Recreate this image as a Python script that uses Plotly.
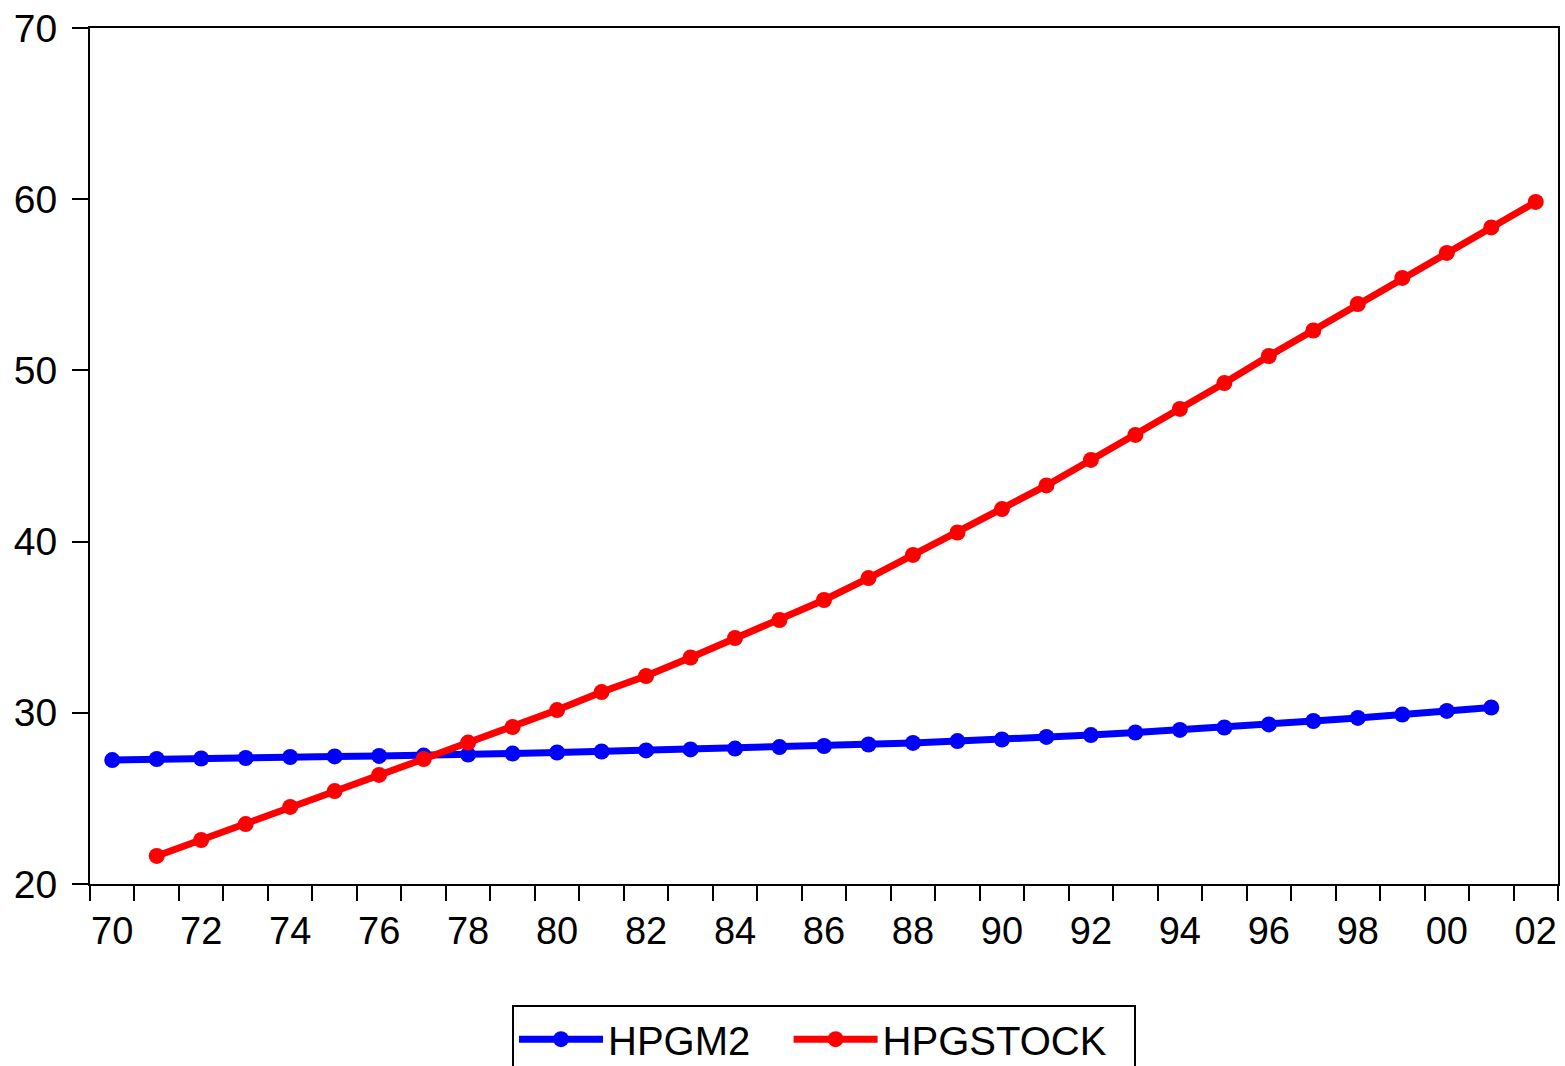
import plotly.graph_objects as go

years_m2 = list(range(1970, 2002))
hpgm2 = [27.24, 27.30, 27.33, 27.36, 27.42, 27.45, 27.48, 27.50, 27.56, 27.62,
         27.68, 27.74, 27.80, 27.86, 27.91, 28.00, 28.06, 28.15, 28.24, 28.35,
         28.44, 28.59, 28.70, 28.85, 29.00, 29.14, 29.32, 29.52, 29.70, 29.90,
         30.11, 30.31]

years_stock = list(range(1971, 2003))
hpgstock = [21.64, 22.57, 23.50, 24.50, 25.43, 26.37, 27.30, 28.26, 29.17, 30.16,
            31.21, 32.15, 33.23, 34.37, 35.42, 36.59, 37.87, 39.22, 40.53, 41.90,
            43.28, 44.77, 46.23, 47.75, 49.26, 50.84, 52.33, 53.88, 55.40, 56.86,
            58.35, 59.84]

label_years = list(range(1970, 2003, 2))
label_text = [str(y)[-2:] for y in label_years]
boundary_ticks = [y - 0.5 for y in range(1970, 2004)]
y_ticks = [20, 30, 40, 50, 60, 70]

FONT = "Liberation Sans, Arial, sans-serif"
NBSP = "\u00a0"

fig = go.Figure()
fig.add_trace(go.Scatter(x=years_m2, y=hpgm2, name="HPGM2" + NBSP * 3, mode="lines+markers",
                         line=dict(color="#0000ff", width=7),
                         marker=dict(color="#0000ff", size=16)))
fig.add_trace(go.Scatter(x=years_stock, y=hpgstock, name="HPGSTOCK" + NBSP * 2, mode="lines+markers",
                         line=dict(color="#ff0000", width=7),
                         marker=dict(color="#ff0000", size=16)))

fig.update_layout(
    width=1565, height=1066,
    margin=dict(l=90, r=7, t=28, b=182, autoexpand=False),
    paper_bgcolor="white", plot_bgcolor="white",
    font=dict(family=FONT, color="black"),
    showlegend=True,
    legend=dict(orientation="h", x=0.5, xanchor="center", y=-0.141, yanchor="top",
                font=dict(size=40, family=FONT), bordercolor="black", borderwidth=2,
                bgcolor="white", itemwidth=84),
)
fig.update_xaxes(
    range=[1969.5, 2002.5], showgrid=False, zeroline=False,
    showline=True, linecolor="black", linewidth=2, mirror=True,
    tickmode="array", tickvals=label_years, ticktext=label_text,
    ticks="outside", tickcolor="rgba(0,0,0,0)", ticklen=12,
    tickfont=dict(size=38, family=FONT),
    minor=dict(tickmode="array", tickvals=boundary_ticks, ticks="outside",
               ticklen=15, tickwidth=2, tickcolor="black", showgrid=False),
)
fig.update_yaxes(
    range=[20, 70], showgrid=False, zeroline=False,
    showline=True, linecolor="black", linewidth=2, mirror=True,
    tickmode="array", tickvals=y_ticks,
    ticks="outside", ticklen=16, tickwidth=2, tickcolor="black",
    ticklabelstandoff=7,
    tickfont=dict(size=39, family=FONT),
)

fig.write_html("out.html", config={"displayModeBar": False},
               post_script="document.body.style.margin='0';document.body.style.overflow='hidden';")
